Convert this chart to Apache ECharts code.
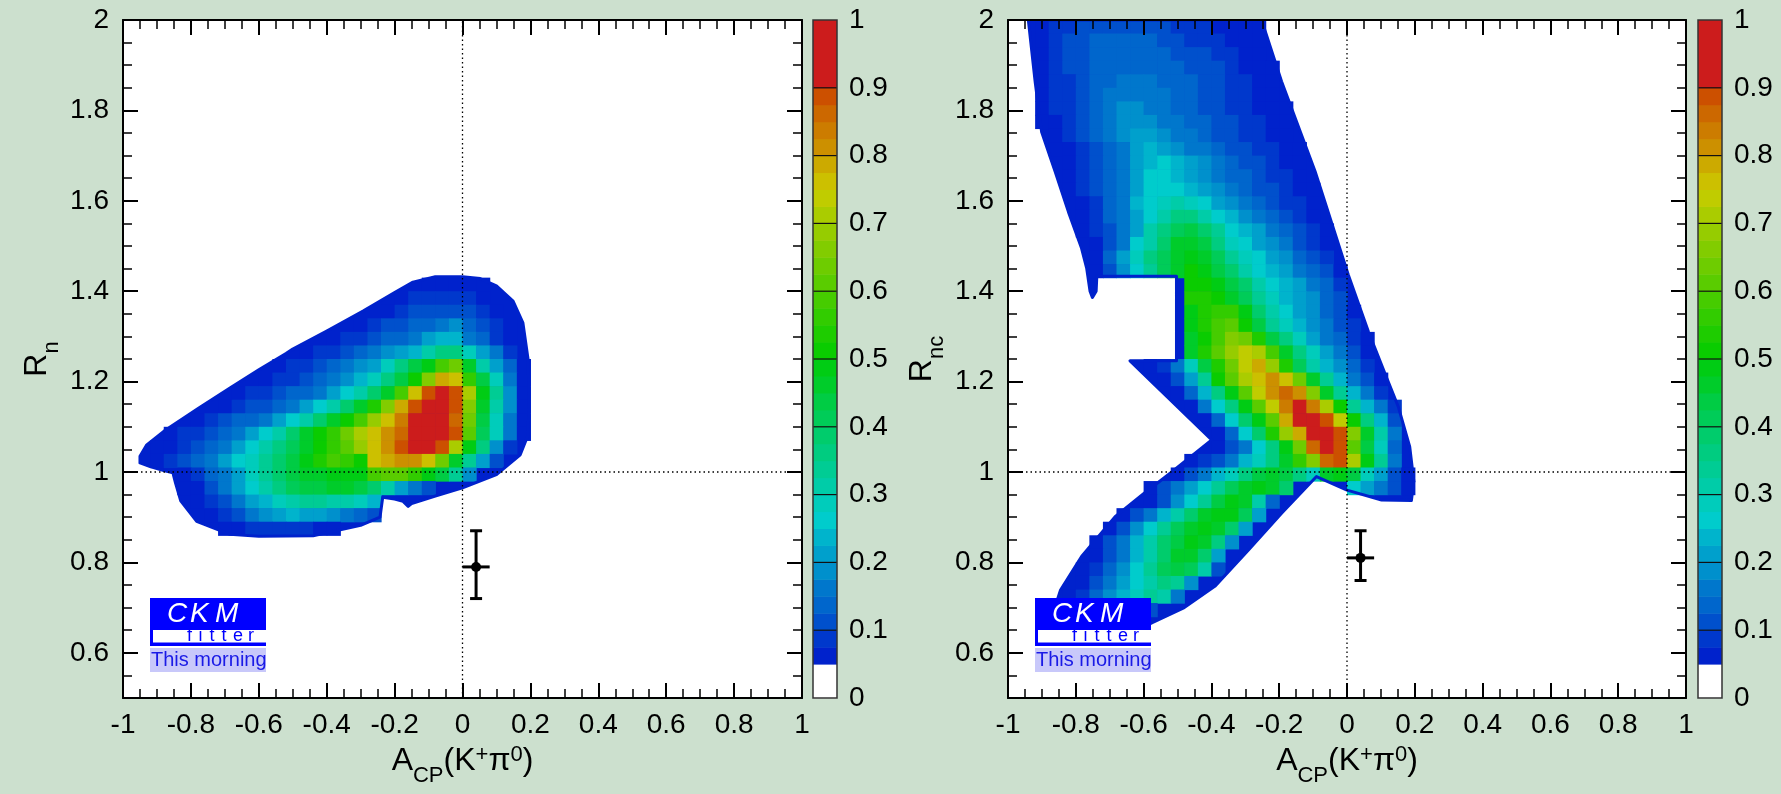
<!DOCTYPE html>
<html>
<head>
<meta charset="utf-8">
<script src="https://cdn.jsdelivr.net/npm/echarts@6/dist/echarts.min.js"></script>
<style>
html,body{margin:0;padding:0;background:#cce0ce;}
#chart{width:1781px;height:794px;}
</style>
</head>
<body>
<div id="chart"></div>
<script>
// ---------------- data ----------------
const X_MIN = -1, X_MAX = 1, Y_MIN = 0.5, Y_MAX = 2;
const CELL_W = 0.04, CELL_H = 0.03;
const yTickValues = [0.6, 0.8, 1.0, 1.2, 1.4, 1.6, 1.8, 2.0];
const zTickValues = [0, 0.1, 0.2, 0.3, 0.4, 0.5, 0.6, 0.7, 0.8, 0.9, 1];

// colour bands of the p-value scale
const BAND_EDGES = [0,0.05,0.075,0.1,0.125,0.15,0.175,0.2,0.225,0.25,0.275,0.3,0.325,0.35,0.375,0.4,
  0.425,0.45,0.475,0.5,0.525,0.55,0.575,0.6,0.625,0.65,0.675,0.7,0.725,0.75,0.775,0.8,0.825,0.85,0.875,0.9,1];
const BAND_COLORS = ['#ffffff','#0022cc','#0038cc','#0050cc','#0066cc','#0077cc','#0090cc','#00a0cc','#00b4cc',
  '#00cccc','#00ccbb','#00cca8','#00cc94','#00cc80','#00cc6c','#00cc58','#00cc44','#00cc2a','#00cc14',
  '#0acc00','#1ecc00','#32cc00','#46cc00','#5acc00','#6ecc00','#82cc00','#96cc00','#aacc00','#c0cc00',
  '#ccc000','#ccaa00','#cc9000','#cc7c00','#cc6800','#cc5000','#cc1c1c'];
// one code letter per band above 0.05 (a = 0.05-0.075 ... H = 0.875-0.9, I = 0.9-1)
const LEVEL_CODES = 'abcdefghijklmnopqrstuvwxyzABCDEFGHI';

// left plot (R_n): rows of cells, top row index first; each row = [first column, codes]
const leftTopRow = 30;
const leftRows = [
  [22,'aaaaa'],
  [20,'abbbbba'],
  [19,'abcccccba'],
  [17,'abccddefdcba'],
  [15,'abbcddeghhedba'],
  [13,'abbcdefghkmmjgeb'],
  [11,'abbcdefgjmprvxqkgda'],
  [10,'abbcdefhjmpsyDCupjea'],
  [8,'abbcddegiknqvCHIHArlfa'],
  [7,'abccdegiknqtyDHIIHyqkfa'],
  [5,'abcddegiknqsvzCFIIIGxpjea'],
  [3,'abbcdegiknqsuxACEGIIIHwojea'],
  [2,'aabcdegikmoqsuwzCEHIIHArmfb'],
  [2,'abcdegijlnprtvusCDEECxqlgc'],
  [4,'abdegjlnpqqrrrvwwurplf'],
  [4,'aacegikmoppqqpnkgec'],
  [5,'abceghjkllkkjh'],
  [6,'abcefghggfedc'],
  [7,'aabbbbbaa']
];

// right plot (R_nc)
const rightTopRow = 49;
const rightRows = [
  [2,'abbcccccccbbbaaaa'],
  [2,'abccdddddccbbbaaa'],
  [2,'abccddddddcccbbaa'],
  [2,'abccdddddddcccbaaa'],
  [2,'abbcddeeedddccbbaa'],
  [2,'abbcdeeeeeddccbbaa'],
  [2,'abbcdeffeeddccbbaaa'],
  [2,'aabcdefffeeddccbbaa'],
  [3,'abcdefggfeedccbbaa'],
  [3,'aabcdeghgfeedccbbaa'],
  [4,'abcdeghihgfedccbaa'],
  [4,'abcdegiihgfeddcbba'],
  [4,'abcdegiiihgfedccbaa'],
  [5,'abdehijkjigfedcbba'],
  [5,'abdegikmmkihfedcba'],
  [5,'abcegkmopnlihgedcba'],
  [6,'aceiknqqpmjigfecba'],
  [6,'adgjmoqrqoljigfdcb'],
  [6,'acfiloqsrpnkihgedca'],
  [13,'ssrpnkihgedb'],
  [13,'ttsqoljhgfdc'],
  [13,'rtuurnkigfdca'],
  [13,'rtvwspljhfecb'],
  [13,'qsvyxtpmjgedba'],
  [13,'qtwzBAvqmjgeca'],
  [10,'abejptxBDztokhfdb'],
  [11,'acglswACECxqlheca'],
  [12,'adhmrwBEGEyqlheb'],
  [13,'aeimrwBFIFAslheb'],
  [14,'adinrwDIIHBsmhc'],
  [15,'adintzDIIHyqke'],
  [15,'aceimrxGIHwpjd'],
  [13,'abcehjmquyGHArle'],
  [12,'acehjmpqpmjqrpjgca'],
  [10,'acegiloqrqn....igeca'],
  [10,'acfilprqkd'],
  [8,'acehknqrrog'],
  [7,'acfiloqrqng'],
  [6,'acehknprqmf'],
  [6,'acehknqqng'],
  [5,'abdfilopokc'],
  [5,'acegikmlf'],
  [4,'abdfhjlke'],
  [4,'abdfgfc'],
  [4,'abcdca']
];

// outer 0.05 contour of each region (x, y)
const leftOutline = [[-0.95,1.035],[-0.93,1.06],[-0.88,1.09],[-0.78,1.14],[-0.685,1.186],[-0.6,1.226],[-0.52,1.262],
  [-0.5,1.272],[-0.4,1.312],[-0.293,1.356],[-0.2,1.397],[-0.146,1.42],[-0.08,1.432],[0.0,1.432],[0.052,1.428],
  [0.1,1.412],[0.149,1.378],[0.178,1.33],[0.193,1.25],[0.197,1.15],[0.192,1.08],[0.17,1.038],[0.1,0.994],
  [0.0,0.965],[-0.08,0.947],[-0.15,0.93],[-0.16,0.924],[-0.175,0.935],[-0.2,0.94],[-0.235,0.944],[-0.243,0.9],
  [-0.3,0.882],[-0.44,0.859],[-0.6,0.858],[-0.685,0.862],[-0.783,0.891],[-0.83,0.936],[-0.845,0.975],
  [-0.853,0.998],[-0.88,1.003],[-0.92,1.012],[-0.95,1.02]];
const rightOutline = [[-0.94,2.0],[-0.252,2.0],[-0.193,1.864],[-0.094,1.665],[0.004,1.436],[0.063,1.311],
  [0.112,1.218],[0.151,1.145],[0.185,1.056],[0.197,0.98],[0.19,0.937],[0.102,0.938],[0.0,0.96],[-0.09,0.99],
  [-0.193,0.909],[-0.29,0.828],[-0.39,0.747],[-0.48,0.70],[-0.576,0.666],[-0.68,0.64],[-0.78,0.63],
  [-0.85,0.655],[-0.862,0.70],[-0.845,0.739],[-0.783,0.813],[-0.684,0.901],[-0.6,0.952],[-0.517,1.0],
  [-0.399,1.071],[-0.64,1.246],[-0.503,1.246],[-0.503,1.433],[-0.738,1.433],[-0.740,1.40],[-0.751,1.386],
  [-0.758,1.40],[-0.768,1.451],[-0.783,1.495],[-0.822,1.576],[-0.861,1.665],[-0.901,1.753],[-0.92,1.864]];

// measurement: [x, y, xLow, xHigh, yLow, yHigh]
const leftMeasurement = [[0.04, 0.79, 0.0, 0.08, 0.72, 0.87]];
const rightMeasurement = [[0.04, 0.81, 0.0, 0.08, 0.76, 0.87]];
// reference lines: [x, y]
const referenceLines = [[0, 1]];

// ---------------- helpers ----------------
function decodeCells(topRow, rows) {
  const out = [];
  rows.forEach((row, r) => {
    const j = topRow - r;
    const start = row[0], codes = row[1];
    for (let c = 0; c < codes.length; c++) {
      const k = LEVEL_CODES.indexOf(codes[c]);
      if (k < 0) continue;
      const band = k + 1;
      const i = start + c;
      out.push([X_MIN + i * CELL_W, Y_MIN + j * CELL_H, (BAND_EDGES[band] + BAND_EDGES[band + 1]) / 2]);
    }
  });
  return out;
}
function colorFor(v) {
  for (let b = 0; b < BAND_COLORS.length; b++) {
    if (v >= BAND_EDGES[b] && v < BAND_EDGES[b + 1]) return BAND_COLORS[b];
  }
  return BAND_COLORS[BAND_COLORS.length - 1];
}
const leftCells = decodeCells(leftTopRow, leftRows);
const rightCells = decodeCells(rightTopRow, rightRows);

const FONT = 'Liberation Sans';
const black = '#000';

function xAxesFor(grid) {
  const common = {
    gridIndex: grid, type: 'value', min: X_MIN, max: X_MAX, interval: 0.2, z: 10,
    splitLine: {show: false},
    axisLine: {show: true, onZero: false, lineStyle: {color: black, width: 2}},
    axisTick: {show: true, inside: true, length: 15, lineStyle: {color: black, width: 2}},
    minorTick: {show: true, splitNumber: 4, length: 9, lineStyle: {color: black, width: 1.5}}
  };
  return [
    Object.assign({}, common, {
      position: 'bottom',
      axisLabel: {show: true, fontSize: 28, color: black, fontFamily: FONT, margin: 13, showMinLabel: true, showMaxLabel: true},
      name: '{a|A}{b|CP}{a|(K}{c|+}{a|π}{c|0}{a|)}',
      nameLocation: 'middle', nameGap: 55,
      nameTextStyle: {
        color: black, fontFamily: FONT, fontSize: 32,
        rich: {
          a: {fontSize: 32, color: black, fontFamily: FONT, lineHeight: 32, padding: [0, 0, 10, 0], verticalAlign: 'bottom'},
          b: {fontSize: 22, color: black, fontFamily: FONT, lineHeight: 22, verticalAlign: 'bottom'},
          c: {fontSize: 22, color: black, fontFamily: FONT, lineHeight: 22, padding: [0, 0, 21, 0], verticalAlign: 'bottom'}
        }
      }
    }),
    Object.assign({}, common, {position: 'top', axisLabel: {show: false}})
  ];
}
function yAxesFor(grid, nameSub) {
  const common = {
    gridIndex: grid, type: 'value', min: Y_MIN, max: Y_MAX, z: 10,
    splitLine: {show: false},
    axisLine: {show: true, onZero: false, lineStyle: {color: black, width: 2}}
  };
  const major = {
    axisTick: {show: true, inside: true, length: 15, customValues: yTickValues, lineStyle: {color: black, width: 2}}
  };
  const minor = {
    interval: 0.05,
    axisLine: {show: false, onZero: false},
    axisLabel: {show: false},
    axisTick: {show: true, inside: true, length: 9, lineStyle: {color: black, width: 1.5}}
  };
  return [
    Object.assign({}, common, major, {
      position: 'left',
      axisLabel: {show: true, customValues: yTickValues, fontSize: 28, color: black, fontFamily: FONT, margin: 14},
      name: '{a|R}{b|' + nameSub + '}',
      nameLocation: 'middle', nameGap: 60, nameRotate: 90,
      nameTextStyle: {
        color: black, fontFamily: FONT, fontSize: 32,
        rich: {
          a: {fontSize: 32, color: black, fontFamily: FONT, lineHeight: 32, padding: [0, 0, 10, 0], verticalAlign: 'bottom'},
          b: {fontSize: 22, color: black, fontFamily: FONT, lineHeight: 22, verticalAlign: 'bottom'}
        }
      }
    }),
    Object.assign({}, common, minor, {position: 'left'}),
    Object.assign({}, common, major, {position: 'right', axisLabel: {show: false}}),
    Object.assign({}, common, minor, {position: 'right'})
  ];
}

function outlineSeries(xi, yi, outline, mode) {
  return {
    type: 'custom', xAxisIndex: xi, yAxisIndex: yi, silent: true, clip: true,
    z: mode === 'fill' ? 1 : 3,
    data: [outline[0]],
    renderItem: (params, api) => ({
      type: 'polygon',
      shape: {points: outline.map(p => api.coord(p))},
      style: mode === 'fill'
        ? {fill: BAND_COLORS[1], stroke: 'none'}
        : {fill: 'none', stroke: BAND_COLORS[1], lineWidth: 3, lineJoin: 'round'}
    })
  };
}
function cellSeries(xi, yi, cells) {
  return {
    type: 'custom', xAxisIndex: xi, yAxisIndex: yi, silent: true, clip: true, z: 2,
    data: cells,
    renderItem: (params, api) => {
      const x0 = api.value(0), y0 = api.value(1), v = api.value(2);
      const p1 = api.coord([x0, y0 + CELL_H]);
      const p2 = api.coord([x0 + CELL_W, y0]);
      return {type: 'rect', shape: {x: p1[0], y: p1[1], width: p2[0] - p1[0] + 0.6, height: p2[1] - p1[1] + 0.6},
        style: {fill: colorFor(v), stroke: 'none'}};
    }
  };
}
function refLineSeries(xi, yi) {
  return {
    type: 'custom', xAxisIndex: xi, yAxisIndex: yi, silent: true, clip: true, z: 4,
    data: referenceLines,
    renderItem: (params, api) => {
      const xv = api.value(0), yv = api.value(1);
      const a = api.coord([xv, Y_MIN]), b = api.coord([xv, Y_MAX]);
      const c = api.coord([X_MIN, yv]), d = api.coord([X_MAX, yv]);
      const st = {stroke: black, lineWidth: 1.3, lineDash: [1.5, 3], fill: 'none'};
      return {type: 'group', children: [
        {type: 'line', shape: {x1: a[0], y1: a[1], x2: b[0], y2: b[1]}, style: st},
        {type: 'line', shape: {x1: c[0], y1: c[1], x2: d[0], y2: d[1]}, style: st}
      ]};
    }
  };
}
function measurementSeries(xi, yi, data) {
  return {
    type: 'custom', xAxisIndex: xi, yAxisIndex: yi, silent: true, clip: true, z: 5,
    data: data,
    renderItem: (params, api) => {
      const x = api.value(0), y = api.value(1);
      const c = api.coord([x, y]);
      const xl = api.coord([api.value(2), y]), xh = api.coord([api.value(3), y]);
      const yl = api.coord([x, api.value(4)]), yh = api.coord([x, api.value(5)]);
      const st = {stroke: black, lineWidth: 3, fill: 'none'};
      return {type: 'group', children: [
        {type: 'line', shape: {x1: yl[0], y1: yl[1], x2: yh[0], y2: yh[1]}, style: st},
        {type: 'line', shape: {x1: yl[0] - 6, y1: yl[1], x2: yl[0] + 6, y2: yl[1]}, style: st},
        {type: 'line', shape: {x1: yh[0] - 6, y1: yh[1], x2: yh[0] + 6, y2: yh[1]}, style: st},
        {type: 'line', shape: {x1: xl[0], y1: c[1], x2: xh[0], y2: c[1]}, style: st},
        {type: 'circle', shape: {cx: c[0], cy: c[1], r: 5}, style: {fill: black}}
      ]};
    }
  };
}
function colorbarSeries(xi, yi) {
  const bands = BAND_COLORS.map((col, b) => [BAND_EDGES[b], BAND_EDGES[b + 1]]);
  return [
    {
      type: 'custom', xAxisIndex: xi, yAxisIndex: yi, silent: true, z: 2,
      data: bands,
      renderItem: (params, api) => {
        const p1 = api.coord([0, api.value(1)]), p2 = api.coord([1, api.value(0)]);
        return {type: 'rect', shape: {x: p1[0], y: p1[1], width: p2[0] - p1[0], height: p2[1] - p1[1] + 0.5},
          style: {fill: BAND_COLORS[params.dataIndex], stroke: 'none'}};
      }
    },
    {
      type: 'custom', xAxisIndex: xi, yAxisIndex: yi, silent: true, z: 3,
      data: zTickValues.slice(1, -1).map(v => [0, v]),
      renderItem: (params, api) => {
        const a = api.coord([0, api.value(1)]), b = api.coord([1, api.value(1)]);
        return {type: 'line', shape: {x1: a[0], y1: a[1], x2: b[0], y2: b[1]}, style: {stroke: '#111', lineWidth: 1.2}};
      }
    },
    {
      type: 'custom', xAxisIndex: xi, yAxisIndex: yi, silent: true, z: 4,
      data: [[0, 0]],
      renderItem: (params, api) => {
        const a = api.coord([0, 1]), b = api.coord([1, 0]);
        return {type: 'rect', shape: {x: a[0], y: a[1], width: b[0] - a[0], height: b[1] - a[1]},
          style: {fill: 'none', stroke: '#333', lineWidth: 1.5}};
      }
    }
  ];
}
function logo(x0, y0) {
  const ckm = [['C', 17], ['K', 40], ['M', 65]];
  const fitter = [['f', 37], ['i', 48.5], ['t', 59.5], ['t', 71.5], ['e', 83], ['r', 98]];
  const Z = 100;
  const children = [
    {type: 'rect', z: Z, shape: {x: 0, y: 0, width: 116, height: 48}, style: {fill: '#0000ff'}},
    {type: 'rect', z: Z + 1, shape: {x: 3, y: 32, width: 113, height: 12.5}, style: {fill: '#ffffff'}},
    {type: 'rect', z: Z, shape: {x: 0, y: 50, width: 116, height: 24}, style: {fill: '#c8c8fa'}}
  ];
  ckm.forEach(([t, x]) => children.push({type: 'text', z: Z + 2, x: x, y: 16,
    style: {text: t, fill: '#ffffff', font: 'italic 28px "Liberation Sans"', align: 'left', verticalAlign: 'middle', textAlign: 'left', textVerticalAlign: 'middle'}}));
  fitter.forEach(([t, x]) => children.push({type: 'text', z: Z + 2, x: x, y: 38.5,
    style: {text: t, fill: '#0000ff', font: '18px "Liberation Sans"', align: 'left', verticalAlign: 'middle', textAlign: 'left', textVerticalAlign: 'middle'}}));
  children.push({type: 'text', z: Z + 2, x: 1, y: 62,
    style: {text: 'This morning', fill: '#1a1ae6', font: '20px "Liberation Sans"', align: 'left', verticalAlign: 'middle', textAlign: 'left', textVerticalAlign: 'middle'}});
  return {type: 'group', x: x0, y: y0, z: Z, silent: true, children: children};
}

function cbarAxes(grid) {
  return {
    x: {gridIndex: grid, type: 'value', min: 0, max: 1, show: false},
    y: {gridIndex: grid, type: 'value', min: 0, max: 1, interval: 0.1, position: 'right',
      axisLine: {show: false}, axisTick: {show: false}, splitLine: {show: false},
      axisLabel: {show: true, fontSize: 28, color: black, fontFamily: FONT, margin: 12, showMinLabel: true, showMaxLabel: true}}
  };
}
const cb1 = cbarAxes(2), cb2 = cbarAxes(3);

const gridCommon = {containLabel: false, outerBoundsMode: 'none'};
const option = {
  backgroundColor: '#cce0ce',
  animation: false,
  textStyle: {fontFamily: FONT},
  grid: [
    Object.assign({left: 123, top: 20, width: 679, height: 678, show: true, backgroundColor: '#ffffff', borderWidth: 0}, gridCommon),
    Object.assign({left: 1008, top: 20, width: 678, height: 678, show: true, backgroundColor: '#ffffff', borderWidth: 0}, gridCommon),
    Object.assign({left: 813, top: 20, width: 24, height: 678}, gridCommon),
    Object.assign({left: 1698, top: 20, width: 24, height: 678}, gridCommon)
  ],
  xAxis: [...xAxesFor(0), ...xAxesFor(1), cb1.x, cb2.x],
  yAxis: [...yAxesFor(0, 'n'), ...yAxesFor(1, 'nc'), cb1.y, cb2.y],
  series: [
    outlineSeries(0, 0, leftOutline, 'fill'),
    cellSeries(0, 0, leftCells),
    outlineSeries(0, 0, leftOutline, 'stroke'),
    refLineSeries(0, 0),
    measurementSeries(0, 0, leftMeasurement),
    outlineSeries(2, 4, rightOutline, 'fill'),
    cellSeries(2, 4, rightCells),
    outlineSeries(2, 4, rightOutline, 'stroke'),
    refLineSeries(2, 4),
    measurementSeries(2, 4, rightMeasurement),
    ...colorbarSeries(4, 8),
    ...colorbarSeries(5, 9)
  ],
  graphic: [logo(150, 598), logo(1035, 598)]
};

const chart = echarts.init(document.getElementById('chart'), null, {renderer: 'canvas'});
chart.setOption(option);
</script>
</body>
</html>
